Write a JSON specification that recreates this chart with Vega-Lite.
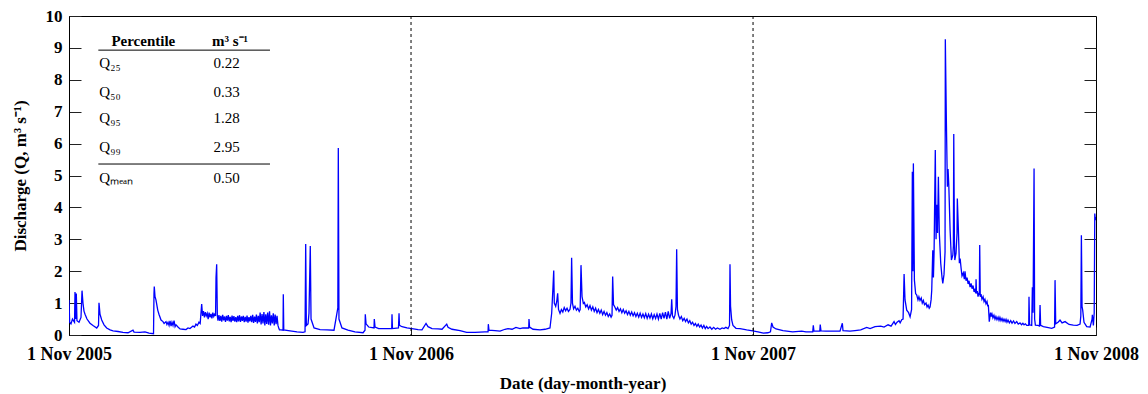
{
  "$schema": "https://vega.github.io/schema/vega-lite/v6.json",
  "width": 1027,
  "height": 319,
  "autosize": {"type": "none"},
  "padding": {"left": 69, "top": 16, "right": 52, "bottom": 59},
  "background": "white",
  "config": {
    "font": "Liberation Serif",
    "view": {"stroke": "black", "strokeWidth": 1},
    "axis": {
      "grid": false,
      "domainColor": "black",
      "tickColor": "#222",
      "labelColor": "black",
      "titleColor": "black",
      "labelFont": "Liberation Serif",
      "titleFont": "Liberation Serif",
      "labelFontWeight": "bold",
      "titleFontWeight": "bold",
      "labelFontSize": 17,
      "titleFontSize": 17
    }
  },
  "datasets": {
    "flow": [
      {"day":0,"Q":1.1},{"day":0.7,"Q":0.4},{"day":2.1,"Q":0.35},{"day":3.7,"Q":0.5},{"day":5.9,"Q":0.4},{"day":6.4,"Q":1.35},{"day":7.2,"Q":0.5},{"day":7.8,"Q":1.3},{"day":8.5,"Q":0.45},{"day":10.7,"Q":0.4},{"day":12.8,"Q":0.55},{"day":13.9,"Q":1.39},{"day":14.9,"Q":1.0},{"day":16,"Q":0.75},{"day":17.1,"Q":0.65},{"day":19.2,"Q":0.5},{"day":22.4,"Q":0.37},{"day":25.6,"Q":0.3},{"day":29.6,"Q":0.22},{"day":31.5,"Q":0.3},{"day":32,"Q":1.01},{"day":33.1,"Q":0.65},{"day":34.9,"Q":0.47},{"day":37.4,"Q":0.32},{"day":40.2,"Q":0.22},{"day":43.8,"Q":0.16},{"day":47,"Q":0.13},{"day":52.3,"Q":0.11},{"day":57.6,"Q":0.08},{"day":63,"Q":0.07},{"day":68.3,"Q":0.15},{"day":69.4,"Q":0.09},{"day":75.8,"Q":0.08},{"day":81.1,"Q":0.1},{"day":85.4,"Q":0.06},{"day":90.2,"Q":0.04},{"day":90.7,"Q":1.3},{"day":91,"Q":1.52},{"day":91.8,"Q":1.2},{"day":92.8,"Q":1.1},{"day":94.7,"Q":0.78},{"day":96,"Q":0.65},{"day":98.2,"Q":0.47},{"day":100.3,"Q":0.42},{"day":101.5,"Q":0.36},{"day":103.5,"Q":0.42},{"day":104.5,"Q":0.33},{"day":105.7,"Q":0.4},{"day":106.8,"Q":0.3},{"day":107.8,"Q":0.44},{"day":108.9,"Q":0.28},{"day":109.9,"Q":0.4},{"day":111,"Q":0.3},{"day":112.1,"Q":0.45},{"day":113.2,"Q":0.26},{"day":114.2,"Q":0.32},{"day":116.3,"Q":0.25},{"day":118.5,"Q":0.19},{"day":121.7,"Q":0.18},{"day":124.9,"Q":0.17},{"day":127,"Q":0.22},{"day":129.1,"Q":0.2},{"day":132.3,"Q":0.28},{"day":134,"Q":0.25},{"day":135.5,"Q":0.34},{"day":137,"Q":0.3},{"day":138.7,"Q":0.4},{"day":140,"Q":0.36},{"day":140.6,"Q":0.6},{"day":141.6,"Q":0.97},{"day":142.5,"Q":0.6},{"day":143.5,"Q":0.75},{"day":144.5,"Q":0.55},{"day":145.5,"Q":0.72},{"day":146.5,"Q":0.6},{"day":147.5,"Q":0.68},{"day":148.5,"Q":0.5},{"day":149.5,"Q":0.7},{"day":150.5,"Q":0.55},{"day":151.5,"Q":0.66},{"day":152.5,"Q":0.52},{"day":153.5,"Q":0.7},{"day":154.5,"Q":0.58},{"day":155.5,"Q":0.65},{"day":156.4,"Q":0.6},{"day":156.9,"Q":1.8},{"day":157.6,"Q":2.22},{"day":158.3,"Q":0.6},{"day":159,"Q":0.45},{"day":160,"Q":0.62},{"day":161,"Q":0.44},{"day":162,"Q":0.6},{"day":163,"Q":0.42},{"day":164,"Q":0.63},{"day":165,"Q":0.46},{"day":166,"Q":0.58},{"day":167,"Q":0.41},{"day":168,"Q":0.6},{"day":169,"Q":0.45},{"day":170,"Q":0.62},{"day":171,"Q":0.43},{"day":172,"Q":0.57},{"day":173,"Q":0.4},{"day":174,"Q":0.61},{"day":175,"Q":0.44},{"day":176,"Q":0.59},{"day":177,"Q":0.42},{"day":178,"Q":0.56},{"day":179,"Q":0.4},{"day":180,"Q":0.6},{"day":181,"Q":0.43},{"day":182,"Q":0.62},{"day":183,"Q":0.41},{"day":184,"Q":0.58},{"day":185,"Q":0.44},{"day":186,"Q":0.6},{"day":187,"Q":0.4},{"day":188,"Q":0.57},{"day":189,"Q":0.42},{"day":190,"Q":0.61},{"day":191,"Q":0.39},{"day":192,"Q":0.56},{"day":193,"Q":0.43},{"day":194,"Q":0.6},{"day":195,"Q":0.4},{"day":196,"Q":0.63},{"day":197,"Q":0.38},{"day":198,"Q":0.58},{"day":199,"Q":0.41},{"day":200,"Q":0.64},{"day":201,"Q":0.36},{"day":202,"Q":0.6},{"day":203,"Q":0.4},{"day":204,"Q":0.7},{"day":205,"Q":0.33},{"day":206,"Q":0.66},{"day":207,"Q":0.36},{"day":208,"Q":0.72},{"day":209,"Q":0.3},{"day":210,"Q":0.65},{"day":211,"Q":0.35},{"day":212,"Q":0.7},{"day":213,"Q":0.32},{"day":214,"Q":0.74},{"day":215,"Q":0.3},{"day":216,"Q":0.62},{"day":217,"Q":0.36},{"day":218,"Q":0.68},{"day":219,"Q":0.3},{"day":220,"Q":0.64},{"day":221,"Q":0.34},{"day":222,"Q":0.6},{"day":223,"Q":0.3},{"day":224,"Q":0.2},{"day":224.6,"Q":0.16},{"day":226.2,"Q":0.16},{"day":228.4,"Q":0.15},{"day":228.7,"Q":1.28},{"day":229.2,"Q":0.16},{"day":235.9,"Q":0.13},{"day":243.3,"Q":0.1},{"day":249.7,"Q":0.08},{"day":251.9,"Q":0.1},{"day":252.6,"Q":2.85},{"day":253.3,"Q":0.3},{"day":255.1,"Q":0.35},{"day":256.1,"Q":0.68},{"day":257.5,"Q":2.79},{"day":258.3,"Q":0.5},{"day":261.5,"Q":0.22},{"day":267.9,"Q":0.17},{"day":275.3,"Q":0.16},{"day":282.8,"Q":0.15},{"day":286.9,"Q":0.85},{"day":287.4,"Q":5.86},{"day":288.1,"Q":0.5},{"day":291.3,"Q":0.22},{"day":297.7,"Q":0.15},{"day":305.2,"Q":0.1},{"day":313.8,"Q":0.07},{"day":315.9,"Q":0.15},{"day":316.2,"Q":0.65},{"day":317,"Q":0.35},{"day":319.8,"Q":0.25},{"day":325.5,"Q":0.22},{"day":325.8,"Q":0.5},{"day":326.6,"Q":0.25},{"day":330.5,"Q":0.2},{"day":337.2,"Q":0.2},{"day":344.4,"Q":0.2},{"day":344.7,"Q":0.65},{"day":345.2,"Q":0.2},{"day":351.6,"Q":0.22},{"day":352.2,"Q":0.68},{"day":352.7,"Q":0.3},{"day":355.4,"Q":0.26},{"day":360.7,"Q":0.22},{"day":366,"Q":0.2},{"day":372.5,"Q":0.17},{"day":376.7,"Q":0.16},{"day":381,"Q":0.36},{"day":383.1,"Q":0.26},{"day":387.4,"Q":0.2},{"day":393.8,"Q":0.19},{"day":398.1,"Q":0.18},{"day":403.1,"Q":0.34},{"day":404.5,"Q":0.24},{"day":408.7,"Q":0.18},{"day":417.3,"Q":0.14},{"day":424.4,"Q":0.08},{"day":433.3,"Q":0.08},{"day":443.9,"Q":0.1},{"day":447.2,"Q":0.1},{"day":447.5,"Q":0.34},{"day":448.2,"Q":0.15},{"day":454.6,"Q":0.14},{"day":460,"Q":0.12},{"day":465.3,"Q":0.18},{"day":468.5,"Q":0.2},{"day":472.8,"Q":0.18},{"day":477,"Q":0.24},{"day":481.3,"Q":0.2},{"day":484.5,"Q":0.22},{"day":490.6,"Q":0.22},{"day":490.9,"Q":0.5},{"day":491.5,"Q":0.25},{"day":495.2,"Q":0.18},{"day":502.7,"Q":0.16},{"day":508,"Q":0.18},{"day":513.3,"Q":0.22},{"day":515.1,"Q":0.68},{"day":516.5,"Q":1.5},{"day":517.3,"Q":2.02},{"day":517.9,"Q":1.0},{"day":519.4,"Q":0.9},{"day":520.5,"Q":1.05},{"day":521.5,"Q":1.31},{"day":522.4,"Q":0.8},{"day":524,"Q":0.68},{"day":525.5,"Q":0.8},{"day":527,"Q":0.72},{"day":528.5,"Q":0.86},{"day":530,"Q":0.76},{"day":531.5,"Q":0.84},{"day":533,"Q":0.74},{"day":534.6,"Q":0.8},{"day":535.7,"Q":1.0},{"day":536.4,"Q":2.42},{"day":537.3,"Q":1.0},{"day":538.5,"Q":0.82},{"day":540,"Q":0.9},{"day":541.5,"Q":0.78},{"day":543,"Q":0.84},{"day":544.5,"Q":0.74},{"day":545.5,"Q":0.8},{"day":546.4,"Q":2.19},{"day":547.5,"Q":1.2},{"day":548.9,"Q":0.99},{"day":550,"Q":1.02},{"day":551.5,"Q":0.88},{"day":553,"Q":0.95},{"day":554.5,"Q":0.82},{"day":556,"Q":0.92},{"day":557.5,"Q":0.78},{"day":559,"Q":0.88},{"day":560.5,"Q":0.74},{"day":562,"Q":0.84},{"day":563.5,"Q":0.7},{"day":565,"Q":0.8},{"day":566.5,"Q":0.68},{"day":568,"Q":0.78},{"day":569.5,"Q":0.64},{"day":571,"Q":0.74},{"day":572.5,"Q":0.62},{"day":574,"Q":0.7},{"day":575.5,"Q":0.58},{"day":577,"Q":0.66},{"day":578.5,"Q":0.56},{"day":579.5,"Q":0.62},{"day":580.2,"Q":1.83},{"day":581.1,"Q":0.95},{"day":582.5,"Q":0.88},{"day":584,"Q":0.78},{"day":585.5,"Q":0.86},{"day":587,"Q":0.74},{"day":588.5,"Q":0.82},{"day":590,"Q":0.7},{"day":591.5,"Q":0.8},{"day":593,"Q":0.68},{"day":594.5,"Q":0.76},{"day":596,"Q":0.64},{"day":597.5,"Q":0.74},{"day":599,"Q":0.62},{"day":600.5,"Q":0.72},{"day":602,"Q":0.6},{"day":603.5,"Q":0.7},{"day":605,"Q":0.58},{"day":606.5,"Q":0.68},{"day":608,"Q":0.56},{"day":609.5,"Q":0.68},{"day":611,"Q":0.55},{"day":612.5,"Q":0.66},{"day":614,"Q":0.54},{"day":615.5,"Q":0.67},{"day":617,"Q":0.52},{"day":618.5,"Q":0.65},{"day":620,"Q":0.53},{"day":621.5,"Q":0.66},{"day":623,"Q":0.51},{"day":624.5,"Q":0.64},{"day":626,"Q":0.52},{"day":627.5,"Q":0.66},{"day":629,"Q":0.5},{"day":630.5,"Q":0.68},{"day":632,"Q":0.5},{"day":633.5,"Q":0.7},{"day":635,"Q":0.52},{"day":636.5,"Q":0.72},{"day":638,"Q":0.5},{"day":639.5,"Q":0.74},{"day":641,"Q":0.52},{"day":642.5,"Q":0.68},{"day":643.2,"Q":1.12},{"day":644,"Q":0.6},{"day":645.5,"Q":0.52},{"day":646.7,"Q":0.62},{"day":647.8,"Q":0.9},{"day":648.5,"Q":2.69},{"day":649.3,"Q":0.8},{"day":650.5,"Q":0.62},{"day":652,"Q":0.5},{"day":653.5,"Q":0.58},{"day":655,"Q":0.45},{"day":656.5,"Q":0.52},{"day":658,"Q":0.42},{"day":659.5,"Q":0.5},{"day":661,"Q":0.38},{"day":662.5,"Q":0.45},{"day":664,"Q":0.34},{"day":665.5,"Q":0.4},{"day":667,"Q":0.3},{"day":668.5,"Q":0.36},{"day":670,"Q":0.27},{"day":671.5,"Q":0.34},{"day":673,"Q":0.25},{"day":674.5,"Q":0.31},{"day":676,"Q":0.22},{"day":677.5,"Q":0.3},{"day":679,"Q":0.2},{"day":680.5,"Q":0.27},{"day":682,"Q":0.2},{"day":684,"Q":0.25},{"day":686,"Q":0.18},{"day":688,"Q":0.24},{"day":690,"Q":0.18},{"day":692,"Q":0.22},{"day":694.7,"Q":0.18},{"day":697,"Q":0.22},{"day":699,"Q":0.2},{"day":701,"Q":0.24},{"day":703.3,"Q":0.2},{"day":704.9,"Q":0.3},{"day":705.4,"Q":2.22},{"day":706,"Q":0.9},{"day":707.2,"Q":0.47},{"day":708.6,"Q":0.3},{"day":711.8,"Q":0.21},{"day":716.1,"Q":0.2},{"day":723.2,"Q":0.16},{"day":729.6,"Q":0.13},{"day":735.3,"Q":0.1},{"day":741,"Q":0.06},{"day":745.7,"Q":0.07},{"day":748.6,"Q":0.1},{"day":749.9,"Q":0.38},{"day":751.3,"Q":0.25},{"day":754.5,"Q":0.19},{"day":762,"Q":0.14},{"day":772.3,"Q":0.1},{"day":781.9,"Q":0.12},{"day":786.5,"Q":0.1},{"day":793.7,"Q":0.1},{"day":794.3,"Q":0.3},{"day":795,"Q":0.12},{"day":801.2,"Q":0.12},{"day":801.7,"Q":0.33},{"day":802.5,"Q":0.13},{"day":807.8,"Q":0.12},{"day":816.4,"Q":0.12},{"day":822.8,"Q":0.12},{"day":825.3,"Q":0.37},{"day":826,"Q":0.14},{"day":833.5,"Q":0.12},{"day":838.8,"Q":0.14},{"day":844.9,"Q":0.16},{"day":851.3,"Q":0.24},{"day":854.9,"Q":0.2},{"day":860.2,"Q":0.26},{"day":866.3,"Q":0.28},{"day":869.8,"Q":0.25},{"day":874.1,"Q":0.32},{"day":877.3,"Q":0.28},{"day":880.5,"Q":0.42},{"day":882,"Q":0.33},{"day":883.7,"Q":0.4},{"day":885.8,"Q":0.45},{"day":887,"Q":0.38},{"day":888.7,"Q":0.48},{"day":890.1,"Q":0.5},{"day":891.2,"Q":1.91},{"day":892.2,"Q":1.1},{"day":894,"Q":0.78},{"day":896,"Q":0.7},{"day":897.6,"Q":0.57},{"day":899.2,"Q":0.8},{"day":900,"Q":5.12},{"day":900.6,"Q":2.0},{"day":901.1,"Q":5.38},{"day":902.2,"Q":1.72},{"day":903.5,"Q":1.3},{"day":904.7,"Q":1.25},{"day":906,"Q":1.1},{"day":907,"Q":1.2},{"day":908.2,"Q":1.08},{"day":909.5,"Q":1.16},{"day":910.6,"Q":1.0},{"day":911.8,"Q":1.08},{"day":913,"Q":0.95},{"day":914.6,"Q":1.0},{"day":915.7,"Q":0.88},{"day":916.8,"Q":0.94},{"day":918,"Q":0.84},{"day":918.9,"Q":0.88},{"day":920,"Q":1.1},{"day":920.7,"Q":1.4},{"day":921.8,"Q":2.66},{"day":922.5,"Q":1.8},{"day":923.2,"Q":2.6},{"day":924.5,"Q":5.8},{"day":925.3,"Q":3.0},{"day":926,"Q":4.08},{"day":926.9,"Q":3.2},{"day":927.8,"Q":4.96},{"day":928.8,"Q":3.19},{"day":930.3,"Q":2.25},{"day":931.7,"Q":1.8},{"day":932.5,"Q":1.62},{"day":933.8,"Q":1.9},{"day":934.9,"Q":2.6},{"day":935.2,"Q":9.27},{"day":936.3,"Q":6.74},{"day":937.4,"Q":4.65},{"day":938.1,"Q":5.2},{"day":938.9,"Q":4.7},{"day":940.3,"Q":3.29},{"day":941.7,"Q":2.35},{"day":943.2,"Q":2.5},{"day":943.8,"Q":2.8},{"day":944.2,"Q":6.3},{"day":944.9,"Q":3.0},{"day":945.3,"Q":2.35},{"day":946.6,"Q":2.56},{"day":947.7,"Q":3.2},{"day":948,"Q":4.28},{"day":949.1,"Q":3.34},{"day":950.2,"Q":2.25},{"day":951,"Q":2.4},{"day":952,"Q":2.1},{"day":953,"Q":1.85},{"day":954.4,"Q":1.95},{"day":955.5,"Q":1.75},{"day":956.2,"Q":2.0},{"day":957.3,"Q":1.7},{"day":958.4,"Q":1.8},{"day":959.5,"Q":1.6},{"day":960.5,"Q":1.7},{"day":961.6,"Q":1.5},{"day":962.7,"Q":1.62},{"day":963.7,"Q":1.45},{"day":964.8,"Q":1.55},{"day":965.9,"Q":1.35},{"day":967,"Q":1.45},{"day":967.7,"Q":1.3},{"day":968,"Q":1.75},{"day":968.5,"Q":1.3},{"day":969.3,"Q":1.38},{"day":970.1,"Q":1.2},{"day":971,"Q":1.32},{"day":971.5,"Q":1.25},{"day":971.9,"Q":2.82},{"day":972.5,"Q":1.2},{"day":973.3,"Q":1.28},{"day":974.3,"Q":1.12},{"day":975.5,"Q":1.2},{"day":976.5,"Q":1.05},{"day":977.5,"Q":1.12},{"day":978.6,"Q":0.98},{"day":979.7,"Q":1.05},{"day":980.5,"Q":0.9},{"day":981.1,"Q":0.95},{"day":982.1,"Q":0.42},{"day":983.4,"Q":0.7},{"day":984.2,"Q":0.58},{"day":985,"Q":0.66},{"day":986,"Q":0.54},{"day":987.1,"Q":0.62},{"day":988.2,"Q":0.5},{"day":989.2,"Q":0.58},{"day":990.3,"Q":0.48},{"day":991.5,"Q":0.56},{"day":992.5,"Q":0.46},{"day":993.5,"Q":0.55},{"day":994.6,"Q":0.45},{"day":995.7,"Q":0.52},{"day":996.8,"Q":0.43},{"day":997.8,"Q":0.5},{"day":999,"Q":0.42},{"day":1000,"Q":0.49},{"day":1001,"Q":0.4},{"day":1002.1,"Q":0.47},{"day":1003.5,"Q":0.38},{"day":1005,"Q":0.45},{"day":1006.4,"Q":0.37},{"day":1008,"Q":0.44},{"day":1009.5,"Q":0.36},{"day":1011.4,"Q":0.42},{"day":1013,"Q":0.34},{"day":1014.9,"Q":0.38},{"day":1016.5,"Q":0.32},{"day":1018,"Q":0.37},{"day":1019.2,"Q":0.32},{"day":1020.6,"Q":0.35},{"day":1022.1,"Q":0.3},{"day":1024.2,"Q":0.3},{"day":1024.5,"Q":1.2},{"day":1025.1,"Q":0.32},{"day":1027.4,"Q":0.3},{"day":1028.1,"Q":1.5},{"day":1028.8,"Q":0.7},{"day":1029.9,"Q":5.22},{"day":1030.5,"Q":0.5},{"day":1031.3,"Q":0.31},{"day":1034.1,"Q":0.3},{"day":1035.7,"Q":0.28},{"day":1036.3,"Q":0.94},{"day":1036.9,"Q":0.3},{"day":1039.8,"Q":0.26},{"day":1043.8,"Q":0.24},{"day":1048.8,"Q":0.21},{"day":1051.8,"Q":0.25},{"day":1052.3,"Q":1.72},{"day":1053,"Q":0.35},{"day":1055.5,"Q":0.4},{"day":1057.6,"Q":0.47},{"day":1059.8,"Q":0.38},{"day":1063,"Q":0.42},{"day":1067.2,"Q":0.33},{"day":1071.8,"Q":0.31},{"day":1075.8,"Q":0.3},{"day":1079,"Q":0.34},{"day":1079.8,"Q":0.6},{"day":1080.4,"Q":3.13},{"day":1081.1,"Q":0.9},{"day":1081.8,"Q":0.78},{"day":1083.2,"Q":0.4},{"day":1086.1,"Q":0.26},{"day":1089.7,"Q":0.25},{"day":1091.8,"Q":0.5},{"day":1092.1,"Q":0.63},{"day":1093.2,"Q":0.3},{"day":1094.1,"Q":0.7},{"day":1094.7,"Q":3.81},{"day":1095.3,"Q":3.6},{"day":1096,"Q":3.7}
    ],
    "years": [{"day": 365}, {"day": 730}],
    "tableRules": [{"day": 31.3, "end": 214.5, "y": 8.93}, {"day": 31.3, "end": 214.5, "y": 5.36}],
    "tableLabels": [
      {"text": "Q₂₅", "day": 32.4, "y": 8.53},
      {"text": "Q₅₀", "day": 32.4, "y": 7.63},
      {"text": "Q₉₅", "day": 32.4, "y": 6.79},
      {"text": "Q₉₉", "day": 32.4, "y": 5.9},
      {"text": "Qₘₑₐₙ", "day": 32.4, "y": 4.91}
    ],
    "tableValues": [
      {"text": "0.22", "day": 168.3, "y": 8.53},
      {"text": "0.33", "day": 168.3, "y": 7.63},
      {"text": "1.28", "day": 168.3, "y": 6.79},
      {"text": "2.95", "day": 168.3, "y": 5.9},
      {"text": "0.50", "day": 168.3, "y": 4.91}
    ],
    "tableHead": [
      {"text": "Percentile", "day": 79.3, "y": 9.22},
      {"text": "m³ s⁻¹", "day": 171.8, "y": 9.22}
    ]
  },
  "resolve": {"axis": {"y": "independent"}},
  "encoding": {
    "x": {
      "field": "day", "type": "quantitative",
      "scale": {"domain": [0, 1096], "nice": false, "zero": false},
      "axis": {
        "title": "Date (day-month-year)",
        "values": [0, 365, 730, 1096],
        "labelExpr": "datum.value == 0 ? '1 Nov 2005' : datum.value == 365 ? '1 Nov 2006' : datum.value == 730 ? '1 Nov 2007' : '1 Nov 2008'",
        "labelFlush": false,
        "labelOverlap": false,
        "tickSize": -8,
        "labelPadding": 18,
        "labelFontSize": 18,
        "titlePadding": 12
      }
    }
  },
  "layer": [
    {
      "data": {"name": "flow"},
      "mark": {"type": "line", "color": "#0000FF", "strokeWidth": 1.3, "clip": true},
      "encoding": {
        "y": {
          "field": "Q", "type": "quantitative",
          "scale": {"domain": [0, 10], "nice": false},
          "axis": {
            "title": "Discharge (Q, m³ s⁻¹)",
            "values": [0, 1, 2, 3, 4, 5, 6, 7, 8, 9, 10],
            "tickSize": -12,
            "labelPadding": 19,
            "titlePadding": 16
          }
        }
      }
    },
    {
      "data": {"name": "years"},
      "mark": {"type": "rule", "color": "black", "strokeWidth": 1, "strokeDash": [3, 3]},
      "encoding": {}
    },
    {
      "data": {"name": "tableRules"},
      "mark": {"type": "rule", "color": "black", "strokeWidth": 1},
      "encoding": {
        "x2": {"field": "end"},
        "y": {
          "field": "y", "type": "quantitative",
          "axis": {
            "orient": "right",
            "title": null,
            "labels": false,
            "domain": false,
            "values": [1, 2, 3, 4, 5, 6, 7, 8, 9],
            "tickSize": -12
          }
        }
      }
    },
    {
      "data": {"name": "tableLabels"},
      "mark": {"type": "text", "align": "left", "baseline": "middle", "font": "Liberation Serif", "fontSize": 15, "color": "black"},
      "encoding": {
        "y": {"field": "y", "type": "quantitative", "axis": null},
        "text": {"field": "text"}
      }
    },
    {
      "data": {"name": "tableValues"},
      "mark": {"type": "text", "align": "center", "baseline": "middle", "font": "Liberation Serif", "fontSize": 15, "color": "black"},
      "encoding": {
        "y": {"field": "y", "type": "quantitative", "axis": null},
        "text": {"field": "text"}
      }
    },
    {
      "data": {"name": "tableHead"},
      "mark": {"type": "text", "align": "center", "baseline": "middle", "font": "Liberation Serif", "fontSize": 15, "fontWeight": "bold", "color": "black"},
      "encoding": {
        "y": {"field": "y", "type": "quantitative", "axis": null},
        "text": {"field": "text"}
      }
    }
  ]
}
